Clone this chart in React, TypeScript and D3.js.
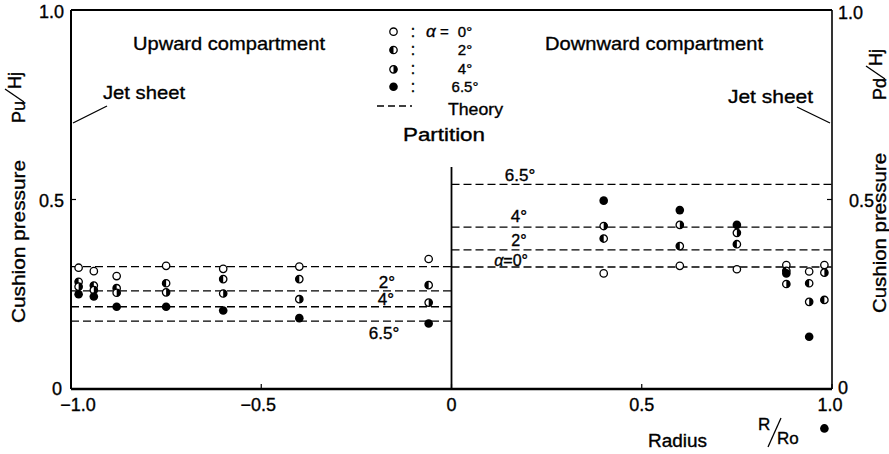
import React from "react";
import * as d3 from "d3";

// Radial positions (R/Ro) of the measurements
const radiiUp = [-0.98, -0.94, -0.88, -0.75, -0.6, -0.4, -0.06];
const radiiDown = [0.4, 0.6, 0.75, 0.88, 0.94, 0.98];

// Upward compartment Pu/Hj for alpha = 0, 2, 4, 6.5 deg
const upA0 = [0.32, 0.311, 0.298, 0.325, 0.317, 0.323, 0.343];
const upA2 = [0.283, 0.273, 0.266, 0.279, 0.29, 0.29, 0.274];
const upA4 = [0.27, 0.261, 0.254, 0.255, 0.252, 0.237, 0.228];
const upA65 = [0.25, 0.244, 0.217, 0.217, 0.207, 0.187, 0.173];

// Downward compartment Pd/Hj
const downA0 = [0.305, 0.325, 0.316, 0.327, 0.31, 0.327];
const downA2 = [0.397, 0.377, 0.382, 0.312, 0.279, 0.235];
const downA4 = [0.43, 0.433, 0.412, 0.277, 0.23, 0.307];
const downA65 = [0.497, 0.472, 0.433, 0.305, 0.138, -0.104];

// Theory (dashed lines), alpha = 0, 2, 4, 6.5
const theoryUp = [0.323, 0.259, 0.217, 0.179];
const theoryDown = [0.322, 0.367, 0.427, 0.54];

const alphaLabels = ["0°", "2°", "4°", "6.5°"];
const xTicks = [-1, -0.5, 0, 0.5, 1];
const xTickLabels = ["−1.0", "−0.5", "0", "0.5", "1.0"];
const yTicks = [0, 0.5, 1];
const yTickLabels = ["0", "0.5", "1.0"];

const FONT = "'Liberation Sans', Arial, sans-serif";
const R = 3.7;
const halfArc = d3.arc();

function Marker({ cx, cy, kind }: { cx: number; cy: number; kind: number }) {
  if (kind === 0)
    return <circle cx={cx} cy={cy} r={R} fill="#fff" stroke="#000" strokeWidth={1.3} />;
  if (kind === 3) return <circle cx={cx} cy={cy} r={R + 0.6} fill="#000" />;
  const d =
    kind === 1
      ? halfArc({ innerRadius: 0, outerRadius: R, startAngle: Math.PI, endAngle: 2 * Math.PI } as any)
      : halfArc({ innerRadius: 0, outerRadius: R, startAngle: 0, endAngle: Math.PI } as any);
  return (
    <g transform={`translate(${cx},${cy})`}>
      <circle r={R} fill="#fff" stroke="#000" strokeWidth={1.3} />
      <path d={d as string} fill="#000" />
    </g>
  );
}

export default function App() {
  const x = d3.scaleLinear().domain([-1, 1]).range([71, 832]);
  const y = d3.scaleLinear().domain([0, 1]).range([389, 10]);

  const upSeries = [upA0, upA2, upA4, upA65];
  const downSeries = [downA0, downA2, downA4, downA65];

  const left = x(-1), right = x(1), zero = x(0), top = y(1), bottom = y(0);
  const ts = { stroke: "#000", strokeWidth: 0.35 } as any;

  return (
    <svg
      width={889}
      height={454}
      style={{ position: "absolute", left: 0, top: 0, background: "#fff" }}
      fontFamily={FONT}
    >
      <rect width={889} height={454} fill="#fff" />
      {/* frame */}
      <line x1={left} x2={right} y1={top} y2={top} stroke="#000" strokeWidth={1.8} />
      <line x1={left} x2={left} y1={top} y2={bottom} stroke="#000" strokeWidth={2} />
      <line x1={right} x2={right} y1={top} y2={bottom} stroke="#000" strokeWidth={1.6} />
      <line x1={left} x2={right} y1={bottom} y2={bottom} stroke="#000" strokeWidth={2.6} />
      {/* partition */}
      <line x1={zero} x2={zero} y1={167} y2={bottom} stroke="#000" strokeWidth={1.8} />

      {/* theory lines */}
      {theoryUp.map((v, i) => (
        <line key={"tu" + i} x1={left} x2={zero} y1={y(v)} y2={y(v)} stroke="#000" strokeWidth={1.4} strokeDasharray="8 4" />
      ))}
      {theoryDown.map((v, i) => (
        <line key={"td" + i} x1={zero} x2={right} y1={y(v)} y2={y(v)} stroke="#000" strokeWidth={1.4} strokeDasharray="8 4" />
      ))}

      {/* data points */}
      {upSeries.map((s, k) =>
        s.map((v, j) => <Marker key={`u${k}-${j}`} cx={x(radiiUp[j])} cy={y(v)} kind={k} />)
      )}
      {downSeries.map((s, k) =>
        s.map((v, j) => <Marker key={`d${k}-${j}`} cx={x(radiiDown[j])} cy={y(v)} kind={k} />)
      )}

      <g {...ts}>
        {/* ticks */}
        {xTicks.map((t, i) => (
          <g key={"xt" + i}>
            <line x1={x(t)} x2={x(t)} y1={bottom} y2={bottom - 5} stroke="#000" strokeWidth={1.2} />
            <text x={x(t) + (i === 0 ? 7 : i === 1 ? -3 : i === 4 ? -2 : 0)} y={411} fontSize={18} textAnchor="middle">
              {xTickLabels[i]}
            </text>
          </g>
        ))}
        {yTicks.map((t, i) => (
          <g key={"yt" + i}>
            <line x1={left} x2={left + 5} y1={y(t)} y2={y(t)} stroke="#000" strokeWidth={1.2} />
            <line x1={right} x2={right - 5} y1={y(t)} y2={y(t)} stroke="#000" strokeWidth={1.2} />
            <text x={i === 0 ? 62 : 64} y={y(t) + (i === 0 ? 6 : i === 1 ? 7 : 8)} fontSize={18} textAnchor="end">
              {yTickLabels[i]}
            </text>
            <text x={i === 1 ? 849 : 838} y={y(t) + (i === 0 ? 5 : i === 1 ? 7 : 9)} fontSize={18} textAnchor="start">
              {yTickLabels[i]}
            </text>
          </g>
        ))}

        {/* labels on theory lines (upward) */}
        <text x={387} y={288} fontSize={17} textAnchor="middle">{alphaLabels[1]}</text>
        <text x={386} y={305} fontSize={17} textAnchor="middle">{alphaLabels[2]}</text>
        <text x={384} y={339} fontSize={17} textAnchor="middle">{alphaLabels[3]}</text>
        {/* labels on theory lines (downward) */}
        <text x={520} y={181} fontSize={17} textAnchor="middle">{alphaLabels[3]}</text>
        <text x={519} y={222} fontSize={17} textAnchor="middle">{alphaLabels[2]}</text>
        <text x={519} y={246} fontSize={16} textAnchor="middle">{alphaLabels[1]}</text>
        <text x={528} y={266} fontSize={16} textAnchor="end">
          <tspan fontStyle="italic">α</tspan>={alphaLabels[0]}
        </text>

        {/* compartment titles */}
        <text x={133} y={50} fontSize={19} textLength={192} lengthAdjust="spacingAndGlyphs">Upward compartment</text>
        <text x={545} y={50} fontSize={19} textLength={218} lengthAdjust="spacingAndGlyphs">Downward compartment</text>

        {/* jet sheet */}
        <text x={103} y={99} fontSize={19} textLength={82} lengthAdjust="spacingAndGlyphs">Jet sheet</text>
        <line x1={107} y1={106} x2={73} y2={123} stroke="#000" strokeWidth={1.3} />
        <text x={728} y={103} fontSize={19} textLength={85} lengthAdjust="spacingAndGlyphs">Jet sheet</text>
        <line x1={797} y1={107} x2={830} y2={123} stroke="#000" strokeWidth={1.3} />

        {/* legend */}
        {[31.7, 50, 69.3, 86.7].map((cy, k) => (
          <g key={"lg" + k}>
            <text x={413} y={cy + 5} fontSize={16} textAnchor="middle">:</text>
            <text x={465} y={cy + 5} fontSize={15} textAnchor="middle">{alphaLabels[k]}</text>
          </g>
        ))}
        <text x={426} y={37} fontSize={17} fontStyle="italic">α</text>
        <text x={440} y={37} fontSize={15}>=</text>
        <line x1={377} x2={412} y1={106} y2={106} stroke="#000" strokeWidth={1.3} strokeDasharray="7 4" />
        <text x={448} y={115} fontSize={17} textLength={55} lengthAdjust="spacingAndGlyphs">Theory</text>
        <text x={403} y={141} fontSize={18} textLength={82} lengthAdjust="spacingAndGlyphs">Partition</text>

        {/* x axis title */}
        <text x={648} y={447} fontSize={18} textLength={59} lengthAdjust="spacingAndGlyphs">Radius</text>
        <text x={758} y={430} fontSize={17}>R</text>
        <line x1={768} y1={447} x2={781} y2={418} stroke="#000" strokeWidth={1.3} />
        <text x={777} y={444} fontSize={17}>Ro</text>

        {/* y axis titles */}
        <text transform="translate(25,323) rotate(-90)" fontSize={19} textLength={163} lengthAdjust="spacingAndGlyphs">
          Cushion pressure
        </text>
        <g transform="translate(25,123) rotate(-90)">
          <text x={0} y={0} fontSize={18}>Pu</text>
          <line x1={21} y1={-1} x2={34} y2={-20} stroke="#000" strokeWidth={1.4} />
          <text x={34} y={-4} fontSize={18}>Hj</text>
        </g>
        <text transform="translate(886,313) rotate(-90)" fontSize={19} textLength={160} lengthAdjust="spacingAndGlyphs">
          Cushion pressure
        </text>
        <g transform="translate(886,100) rotate(-90)">
          <text x={0} y={0} fontSize={18}>Pd</text>
          <line x1={21} y1={-1} x2={34} y2={-20} stroke="#000" strokeWidth={1.4} />
          <text x={34} y={-4} fontSize={18}>Hj</text>
        </g>
      </g>

      {/* legend markers */}
      {[31.7, 50, 69.3, 86.7].map((cy, k) => (
        <Marker key={"lm" + k} cx={393.5} cy={cy} kind={k} />
      ))}
    </svg>
  );
}
